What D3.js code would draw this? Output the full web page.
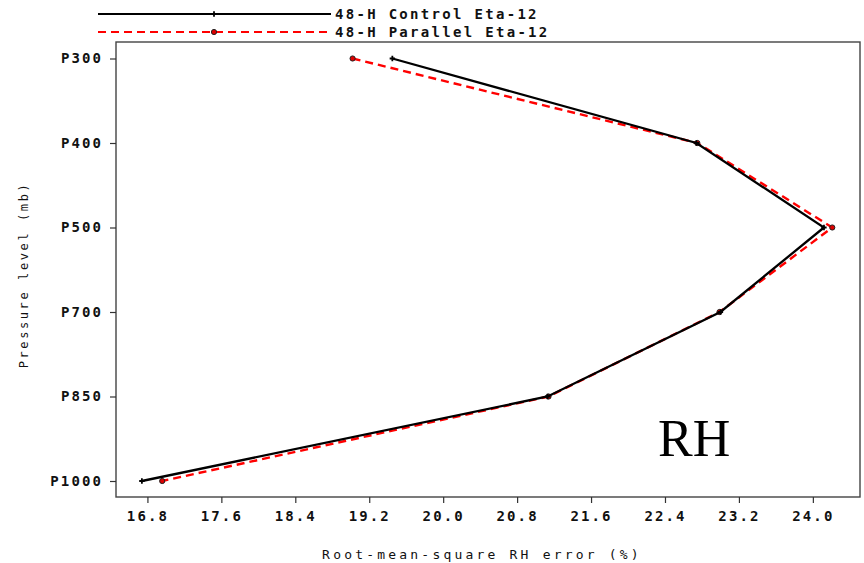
<!DOCTYPE html>
<html>
<head>
<meta charset="utf-8">
<script src="https://cdn.jsdelivr.net/npm/d3@7"></script>
<style>
  body { margin: 0; background: #fff; }
  svg { display: block; }
  .mono { font-family: "DejaVu Sans Mono", "Liberation Mono", monospace; }
</style>
</head>
<body>
<svg id="chart" width="864" height="563"></svg>
<script>
// Pressure levels (top to bottom) and RMS RH error (%) per run
const levels = ["P300", "P400", "P500", "P700", "P850", "P1000"];
const controlRMS = [19.45, 22.74, 24.12, 23.0, 21.13, 16.74];
const parallelRMS = [19.02, 22.75, 24.21, 22.99, 21.14, 16.96];
const xTicks = [16.8, 17.6, 18.4, 19.2, 20.0, 20.8, 21.6, 22.4, 23.2, 24.0];
const seriesNames = ["48-H Control Eta-12", "48-H Parallel Eta-12"];

const svg = d3.select("#chart");
const frame = { left: 116, right: 860, top: 42, bottom: 497 };

const x = d3.scaleLinear().domain([16.46, 24.51]).range([frame.left, frame.right]);
const y = d3.scalePoint().domain(levels).range([58.5, 481]);

// plot frame
svg.append("rect")
  .attr("x", frame.left).attr("y", frame.top)
  .attr("width", frame.right - frame.left).attr("height", frame.bottom - frame.top)
  .attr("fill", "none").attr("stroke", "#444").attr("stroke-width", 1.4);

// x axis
const xAxis = svg.append("g")
  .attr("transform", `translate(0,${frame.bottom})`)
  .call(d3.axisBottom(x).tickValues(xTicks).tickFormat(d3.format(".1f")).tickSize(6).tickPadding(8));
xAxis.select(".domain").remove();
xAxis.selectAll("line").attr("stroke", "#333").attr("stroke-width", 1.2);
xAxis.selectAll("text")
  .attr("class", "mono")
  .attr("font-size", 14).attr("font-weight", "bold").attr("fill", "#111")
  .attr("letter-spacing", 2.1);

// y axis
const yAxis = svg.append("g")
  .attr("transform", `translate(${frame.left},0)`)
  .call(d3.axisLeft(y).tickSize(6).tickPadding(7));
yAxis.select(".domain").remove();
yAxis.selectAll("line").attr("stroke", "#333").attr("stroke-width", 1.2);
yAxis.selectAll("text")
  .attr("class", "mono")
  .attr("font-size", 14).attr("font-weight", "bold").attr("fill", "#111")
  .attr("letter-spacing", 2.1);

// axis titles
svg.append("text")
  .attr("class", "mono")
  .attr("x", 482).attr("y", 559)
  .attr("text-anchor", "middle")
  .attr("font-size", 13).attr("letter-spacing", 3.2).attr("fill", "#111")
  .text("Root-mean-square RH error (%)");

svg.append("text")
  .attr("class", "mono")
  .attr("transform", "translate(28,275) rotate(-90)")
  .attr("text-anchor", "middle")
  .attr("font-size", 12).attr("letter-spacing", 2.6).attr("fill", "#111")
  .text("Pressure level (mb)");

const line = d3.line().x(d => x(d[1])).y(d => y(d[0]));

// parallel run (red dashed, circle markers)
const parPts = levels.map((l, i) => [l, parallelRMS[i]]);
svg.append("path")
  .datum(parPts)
  .attr("d", line)
  .attr("fill", "none").attr("stroke", "#ff0000")
  .attr("stroke-width", 2.4).attr("stroke-dasharray", "8,5");
svg.selectAll(".parMark").data(parPts).enter().append("circle")
  .attr("class", "parMark")
  .attr("cx", d => x(d[1])).attr("cy", d => y(d[0])).attr("r", 2.6)
  .attr("fill", "#d00").attr("stroke", "#222").attr("stroke-width", 1);

// control run (black solid, plus markers)
const ctlPts = levels.map((l, i) => [l, controlRMS[i]]);
svg.append("path")
  .datum(ctlPts)
  .attr("d", line)
  .attr("fill", "none").attr("stroke", "#000").attr("stroke-width", 2.3);
svg.selectAll(".ctlMark").data(ctlPts).enter().append("path")
  .attr("class", "ctlMark")
  .attr("d", d3.symbol(d3.symbolCross, 16))
  .attr("transform", d => `translate(${x(d[1])},${y(d[0])})`)
  .attr("fill", "#000");

// legend
const legend = svg.append("g");
[0, 1].forEach(i => {
  const ly = 14 + i * 18;
  legend.append("line")
    .attr("x1", 98).attr("x2", 331).attr("y1", ly).attr("y2", ly)
    .attr("stroke", i === 0 ? "#000" : "#ff0000")
    .attr("stroke-width", 2.2)
    .attr("stroke-dasharray", i === 0 ? null : "8,5");
  if (i === 0) {
    legend.append("path")
      .attr("d", d3.symbol(d3.symbolCross, 16))
      .attr("transform", `translate(214,${ly})`).attr("fill", "#000");
  } else {
    legend.append("circle")
      .attr("cx", 214).attr("cy", ly).attr("r", 2.6)
      .attr("fill", "#d00").attr("stroke", "#222").attr("stroke-width", 1);
  }
  legend.append("text")
    .attr("class", "mono")
    .attr("x", 335).attr("y", ly + 5)
    .attr("font-size", 14).attr("font-weight", "bold").attr("fill", "#111")
    .attr("letter-spacing", 2.3)
    .text(seriesNames[i]);
});

// panel label
svg.append("text")
  .attr("x", 658).attr("y", 456)
  .attr("font-family", "'Liberation Serif', 'Times New Roman', serif")
  .attr("font-size", 52).attr("fill", "#000")
  .text("RH");
</script>
</body>
</html>
